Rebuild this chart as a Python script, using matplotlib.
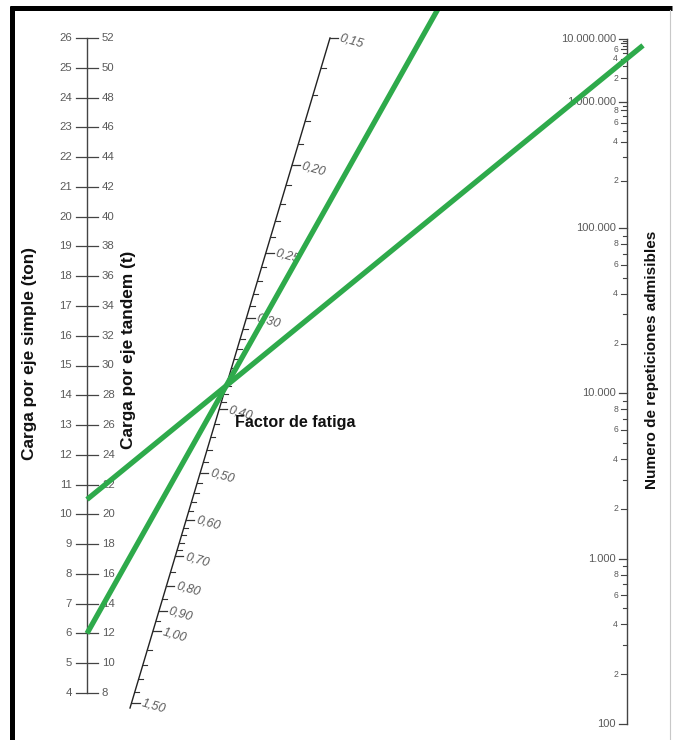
import matplotlib
matplotlib.use('Agg')
import matplotlib.pyplot as plt
import numpy as np

# ---------------- data ----------------
simple_loads = list(range(4, 27))                 # Carga por eje simple (ton)
tandem_loads = [2 * v for v in simple_loads]      # Carga por eje tandem (t)

factor_major = [0.15, 0.20, 0.25, 0.30, 0.40, 0.50, 0.60, 0.70, 0.80, 0.90, 1.00, 1.50]
factor_labels = ['0,15', '0,20', '0,25', '0,30', '0,40', '0,50', '0,60', '0,70',
                 '0,80', '0,90', '1,00', '1,50']
factor_minor = [0.16, 0.17, 0.18, 0.19, 0.21, 0.22, 0.23, 0.24, 0.26, 0.27, 0.28, 0.29,
                0.31, 0.32, 0.33, 0.34, 0.35, 0.36, 0.37, 0.38, 0.39,
                0.42, 0.44, 0.46, 0.48, 0.52, 0.54, 0.56, 0.58, 0.62, 0.64, 0.66, 0.68,
                0.75, 0.85, 0.95, 1.10, 1.20, 1.30, 1.40]

rep_decades = [100, 1000, 10000, 100000, 1000000, 10000000]
rep_decade_labels = ['100', '1.000', '10.000', '100.000', '1.000.000', '10.000.000']
rep_sub = [2, 3, 4, 5, 6, 7, 8, 9]
rep_sub_labeled = [2, 4, 6, 8]

example_loads = [10.5, 6.0]     # eje simple (ton)
example_factor = 0.37

# ---------------- layout ----------------
W, H = 674, 740
LX, L_TOP, L_BOT = 87, 38, 693
RX, R_TOP, R_BOT = 627, 39, 724
D_TOP = (330.0, 38.0)
D_BOT = (131.5, 703.0)
P_EXP = 0.47

GREY = '#5a5a5a'
AXC = '#444444'
GREEN = '#2eaa4b'
FONT = 'Liberation Sans'


def y_simple(v):
    return L_TOP + (26 - v) * (L_BOT - L_TOP) / 22.0


def t_factor(f):
    a, b = 0.15 ** -P_EXP, 1.5 ** -P_EXP
    return (a - f ** -P_EXP) / (a - b)


def pos_factor(f):
    t = t_factor(f)
    return (D_TOP[0] + t * (D_BOT[0] - D_TOP[0]), D_TOP[1] + t * (D_BOT[1] - D_TOP[1]))


def stress_ratio(n):
    nt = 10 ** (11.737 - 12.077 * 0.55)
    if n <= nt:
        return (11.737 - np.log10(n)) / 12.077
    return 0.4325 + 4.2577 / n ** (1 / 3.268)


SR_LO, SR_HI = stress_ratio(100), stress_ratio(1e7)


def y_rep(n):
    s = stress_ratio(n)
    return R_BOT + (s - SR_LO) * (R_TOP - R_BOT) / (SR_HI - SR_LO)


fig = plt.figure(figsize=(W / 100, H / 100), dpi=100)
ax = fig.add_axes([0, 0, 1, 1])
ax.set_xlim(0, W)
ax.set_ylim(H, 0)
ax.axis('off')

# ---------------- frame ----------------
ax.plot([10, 672], [8, 8], color='black', lw=3.6, solid_capstyle='butt', zorder=10)
ax.plot([11.5, 11.5], [6, 740], color='black', lw=3.6, solid_capstyle='butt', zorder=10)
ax.plot([670, 670], [10, 740], color='#c8c8c8', lw=0.8, zorder=10)

# ---------------- left axis ----------------
ax.plot([LX, LX], [y_simple(26), y_simple(4)], color=AXC, lw=1.0)
for v, t in zip(simple_loads, tandem_loads):
    y = y_simple(v)
    ax.plot([LX - 11, LX + 11], [y, y], color=AXC, lw=0.9)
    ax.text(LX - 15, y, str(v), ha='right', va='center', fontsize=8.2,
            color=GREY, family=FONT)
    ax.text(LX + 15, y, str(t), ha='left', va='center', fontsize=8.2,
            color=GREY, family=FONT)

ax.text(30, 353, 'Carga por eje simple (ton)', rotation=90, ha='center', va='center',
        fontsize=12.4, fontweight='bold', color='#111111', family=FONT)
ax.text(128, 350, 'Carga por eje tandem (t)', rotation=90, ha='center', va='center',
        fontsize=12.4, fontweight='bold', color='#111111', family=FONT)

# ---------------- diagonal (factor de fatiga) ----------------
x0, y0 = pos_factor(0.15)
x1, y1 = pos_factor(1.5)
ext = 5.0 / (y1 - y0)
ax.plot([x0, x1 + (x1 - x0) * ext], [y0, y1 + (y1 - y0) * ext], color='#222222', lw=1.0)
for f in factor_minor:
    x, y = pos_factor(f)
    ax.plot([x, x + 4.5], [y, y], color='#333333', lw=0.8)
for f, lab in zip(factor_major, factor_labels):
    x, y = pos_factor(f)
    ax.plot([x, x + 8], [y, y], color='#333333', lw=0.9)
    ax.text(x + 10, y, lab, ha='left', va='center', rotation=-16, rotation_mode='anchor',
            fontsize=9, style='italic', color=GREY, family=FONT)

ax.text(235, 423, 'Factor de fatiga', ha='left', va='center', fontsize=11.6,
        fontweight='bold', color='#111111', family=FONT)

# ---------------- right axis ----------------
ax.plot([RX, RX], [y_rep(1e7), y_rep(100)], color=AXC, lw=1.0)
for d, lab in zip(rep_decades, rep_decade_labels):
    y = y_rep(d)
    ax.plot([RX - 8, RX], [y, y], color=AXC, lw=0.9)
    ax.text(RX - 11, y, lab, ha='right', va='center', fontsize=8,
            color=GREY, family=FONT)
    if d < 1e7:
        for s in rep_sub:
            ys = y_rep(d * s)
            ln = 6 if s in rep_sub_labeled else 4
            ax.plot([RX - ln, RX], [ys, ys], color=AXC, lw=0.8)
            if s in rep_sub_labeled and not (d == 1e6 and s == 8):
                ax.text(RX - 9, ys, str(s), ha='right', va='center', fontsize=6.2,
                        color=GREY, family=FONT)

ax.text(652, 360, 'Numero de repeticiones admisibles', rotation=90, ha='center',
        va='center', fontsize=11, fontweight='bold', color='#111111', family=FONT)

# ---------------- example lines ----------------
px, py = pos_factor(example_factor)
# line 1: extends beyond right axis
ay = y_simple(example_loads[0])
slope = (py - ay) / (px - LX)
xe = 643
ax.plot([LX, xe], [ay, ay + slope * (xe - LX)], color=GREEN, lw=3.8,
        solid_capstyle='butt', zorder=5)
# line 2: extends to the top frame
ay = y_simple(example_loads[1])
slope = (py - ay) / (px - LX)
ye = 9
ax.plot([LX, LX + (ye - ay) / slope], [ay, ye], color=GREEN, lw=3.8,
        solid_capstyle='butt', zorder=5)

fig.savefig('out.png', dpi=100, facecolor='white')
